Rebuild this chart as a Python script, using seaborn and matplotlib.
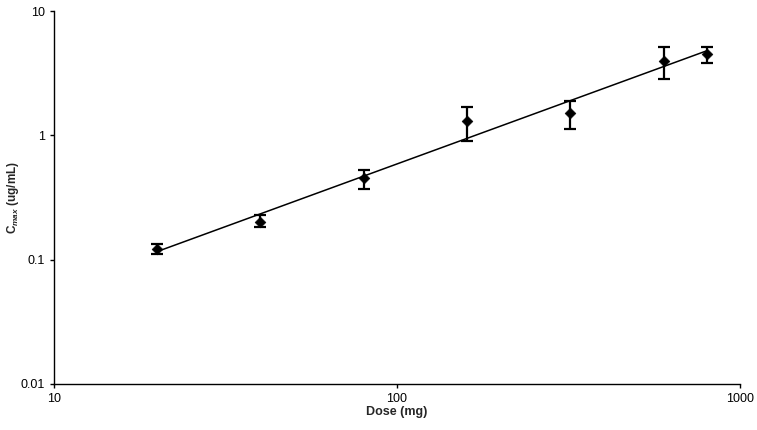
import numpy as np
import matplotlib
matplotlib.use('Agg')
import matplotlib.pyplot as plt
import seaborn as sns

# Data (log-log)
dose = [20, 40, 80, 160, 320, 600, 800]
cmax = [0.123, 0.202, 0.451, 1.30, 1.52, 3.98, 4.51]
cmax_low = [0.111, 0.184, 0.368, 0.905, 1.12, 2.87, 3.84]
cmax_high = [0.135, 0.228, 0.526, 1.70, 1.89, 5.16, 5.16]

x_ticks = [10, 100, 1000]
x_tick_labels = ['10', '100', '1000']
y_ticks = [0.01, 0.1, 1, 10]
y_tick_labels = ['0.01', '0.1', '1', '10']

sns.set_style('white')
plt.rcParams['font.family'] = ['Liberation Sans', 'DejaVu Sans']
plt.rcParams['mathtext.fontset'] = 'custom'
plt.rcParams['mathtext.rm'] = 'Liberation Sans:bold'
plt.rcParams['mathtext.it'] = 'Liberation Sans:italic:bold'

fig = plt.figure(figsize=(7.57, 4.30), dpi=100)
ax = fig.add_axes([0.0713, 0.107, 0.906, 0.867])

# power trendline (least squares in log-log space)
lx = np.log10(dose)
ly = np.log10(cmax)
slope, icept = np.polyfit(lx, ly, 1)
fit_x = np.array([dose[0], dose[-1]], dtype=float)
fit_y = 10 ** (icept + slope * np.log10(fit_x))
sns.lineplot(x=fit_x, y=fit_y, ax=ax, color='black', linewidth=1.1)

yerr = [np.array(cmax) - np.array(cmax_low), np.array(cmax_high) - np.array(cmax)]
ax.errorbar(dose, cmax, yerr=yerr, fmt='none', ecolor='black',
            elinewidth=1.6, capsize=4, capthick=1.6, zorder=3)
sns.scatterplot(x=dose, y=cmax, ax=ax, marker='D', s=30, color='black',
                edgecolor='black', zorder=4)

ax.set_xscale('log')
ax.set_yscale('log')
ax.set_xlim(10, 1000)
ax.set_ylim(0.01, 10)
ax.set_xticks(x_ticks)
ax.set_xticklabels(x_tick_labels)
ax.set_yticks(y_ticks)
ax.set_yticklabels(y_tick_labels)
ax.minorticks_off()

for s in ['top', 'right']:
    ax.spines[s].set_visible(False)
for s in ['left', 'bottom']:
    ax.spines[s].set_color('black')
    ax.spines[s].set_linewidth(1.0)

ax.tick_params(axis='both', which='major', direction='out', length=3,
               width=1, colors='black', labelsize=9, left=True, bottom=True)

ax.set_xlabel('Dose (mg)', fontsize=9, fontweight='bold', labelpad=1)
ax.set_ylabel(r'C$_{\mathit{max}}$ (ug/mL)', fontsize=8.5, fontweight='bold')
ax.yaxis.set_label_coords(-0.048, 0.5)

plt.savefig('out.png', dpi=100)
plt.close()
